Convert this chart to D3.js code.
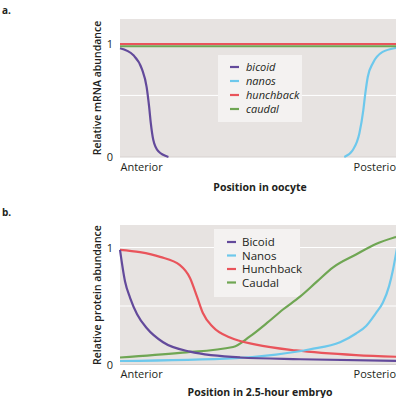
<!DOCTYPE html>
<html>
<head>
<meta charset="utf-8">
<script src="https://cdn.jsdelivr.net/npm/d3@7"></script>
<style>
  html, body { margin: 0; padding: 0; background: #fff; overflow: hidden; }
  svg { display: block; overflow: hidden; }
  text { font-family: "Open Sans", "Noto Sans", sans-serif; fill: #231f20; }
</style>
</head>
<body>
<script>
// position along the axis: 0 = anterior, 1 = posterior
const mrnaBicoid = [[0, 0.962], [0.048, 0.9], [0.078, 0.78], [0.095, 0.62], [0.104, 0.445], [0.11, 0.3], [0.119, 0.15], [0.137, 0.05], [0.173, 0]];
const mrnaNanos = [[0.801, 0], [0.831, 0.06], [0.855, 0.21], [0.869, 0.415], [0.876, 0.56], [0.885, 0.71], [0.903, 0.83], [0.938, 0.93], [0.986, 0.965], [1, 0.97]];
const mrnaHunchback = [[0, 1], [1, 1]];
const mrnaCaudal = [[0, 0.98], [1, 0.98]];

const protBicoid = [[0, 0.98], [0.018, 0.71], [0.036, 0.57], [0.061, 0.43], [0.096, 0.31], [0.154, 0.19], [0.25, 0.11], [0.429, 0.06], [0.643, 0.045], [1, 0.03]];
const protNanos = [[0, 0.03], [0.414, 0.055], [0.557, 0.085], [0.679, 0.13], [0.786, 0.19], [0.843, 0.265], [0.879, 0.33], [0.914, 0.44], [0.939, 0.53], [0.961, 0.67], [0.975, 0.81], [0.986, 0.95], [1, 1.12]];
const protHunchback = [[0, 0.98], [0.071, 0.96], [0.143, 0.92], [0.214, 0.85], [0.25, 0.74], [0.275, 0.58], [0.296, 0.44], [0.332, 0.32], [0.393, 0.23], [0.486, 0.17], [0.629, 0.12], [0.843, 0.08], [1, 0.065]];
const protCaudal = [[0, 0.06], [0.214, 0.1], [0.404, 0.15], [0.464, 0.24], [0.525, 0.355], [0.582, 0.47], [0.643, 0.58], [0.704, 0.71], [0.761, 0.83], [0.843, 0.94], [0.914, 1.03], [0.986, 1.09], [1, 1.1]];

const mrnaNames = ["bicoid", "nanos", "hunchback", "caudal"];
const proteinNames = ["Bicoid", "Nanos", "Hunchback", "Caudal"];
const colors = ["#634a9b", "#6dc8ec", "#e9545b", "#6fa653"];
const yTicks = [0, 1];
const xTickLabels = ["Anterior", "Posterior"];

const svg = d3.select("body").append("svg")
  .attr("width", 396)
  .attr("height", 398);

function drawPanel(p) {
  const x = d3.scaleLinear().domain([0, 1]).range([120, 400]);
  const y = d3.scaleLinear().domain([0, 1]).range([p.y0, p.y1]);
  const g = svg.append("g");

  g.append("text") // panel letter
    .attr("x", 2).attr("y", p.letterY)
    .style("font-size", "10px").style("font-weight", "700")
    .text(p.letter);

  g.append("rect") // plot background
    .attr("x", x(0)).attr("y", p.top)
    .attr("width", x(1) - x(0)).attr("height", y(0) - p.top)
    .attr("fill", "#e7e3e1");

  g.selectAll("line.grid")
    .data(p.grid)
    .join("line")
    .attr("class", "grid")
    .attr("x1", x(0)).attr("x2", x(1))
    .attr("y1", d => y(d)).attr("y2", d => y(d))
    .attr("stroke", "#fff").attr("stroke-width", 1);

  g.append("line") // bottom edge
    .attr("x1", x(0)).attr("x2", x(1))
    .attr("y1", y(0)).attr("y2", y(0))
    .attr("stroke", "#d6d1cf").attr("stroke-width", 1);

  // legend box sits under the curves
  const lg = g.append("g").attr("transform", `translate(${p.legend.x},${p.legend.y})`);
  lg.append("rect")
    .attr("width", p.legend.w).attr("height", p.legend.h)
    .attr("fill", "#f4f2f1");
  p.names.forEach((n, i) => {
    const ly = p.legend.first + i * p.legend.step;
    lg.append("line")
      .attr("x1", p.legend.sx).attr("x2", p.legend.sx + 9)
      .attr("y1", ly).attr("y2", ly)
      .attr("stroke", colors[i]).attr("stroke-width", 2.2);
    lg.append("text")
      .attr("x", p.legend.tx).attr("y", ly)
      .attr("dy", "0.35em")
      .style("font-size", p.legend.fs + "px")
      .style("font-style", p.italic ? "italic" : "normal")
      .text(n);
  });

  const line = d3.line()
    .x(d => x(d[0]))
    .y(d => y(d[1]))
    .curve(d3.curveMonotoneX);

  g.selectAll("path.series")
    .data(p.series)
    .join("path")
    .attr("class", "series")
    .attr("d", d => line(d.values))
    .attr("fill", "none")
    .attr("stroke", d => d.color)
    .attr("stroke-width", 2.2);

  const yAxis = g.append("g")
    .attr("transform", `translate(${x(0) - 4},0)`)
    .call(d3.axisLeft(y).tickValues(yTicks).tickSize(0).tickFormat(d3.format("d")));
  yAxis.select(".domain").remove();
  yAxis.selectAll("text").style("font-size", "11px").style("font-family", "'Open Sans', sans-serif").attr("fill", "#231f20");

  const xAxis = g.append("g")
    .attr("transform", `translate(0,${y(0)})`)
    .call(d3.axisBottom(x).tickValues([0, 1]).tickSize(0).tickFormat((d, i) => xTickLabels[i]));
  xAxis.select(".domain").remove();
  xAxis.selectAll("text")
    .attr("y", 6)
    .attr("text-anchor", (d, i) => i === 0 ? "start" : "end")
    .style("font-size", "11px").style("font-family", "'Open Sans', sans-serif").attr("fill", "#231f20");

  g.append("text") // y title
    .attr("transform", `translate(101,${p.yTitleY}) rotate(-90)`)
    .attr("text-anchor", "middle")
    .style("font-size", "10.5px").style("font-weight", "600")
    .text(p.yTitle);

  g.append("text") // x title
    .attr("x", 260).attr("y", p.xTitleY)
    .attr("text-anchor", "middle")
    .style("font-size", "10.5px").style("font-weight", "700")
    .text(p.xTitle);
}

drawPanel({
  letter: "a.", letterY: 14,
  top: 19, y0: 157, y1: 44,
  grid: [0.545],
  names: mrnaNames, italic: true,
  legend: { x: 218, y: 55, w: 84, h: 67, first: 12, step: 14, sx: 12, tx: 28, fs: 11 },
  series: [
    { color: colors[0], values: mrnaBicoid },
    { color: colors[1], values: mrnaNanos },
    { color: colors[3], values: mrnaCaudal },
    { color: colors[2], values: mrnaHunchback }
  ],
  yTitle: "Relative mRNA abundance", yTitleY: 88,
  xTitle: "Position in oocyte", xTitleY: 191
});

drawPanel({
  letter: "b.", letterY: 216,
  top: 225, y0: 364.5, y1: 247.5,
  grid: [0.5, 1],
  names: proteinNames, italic: false,
  legend: { x: 214, y: 229, w: 86, h: 68, first: 13, step: 13.5, sx: 13, tx: 28, fs: 11.5 },
  series: [
    { color: colors[3], values: protCaudal },
    { color: colors[2], values: protHunchback },
    { color: colors[1], values: protNanos },
    { color: colors[0], values: protBicoid }
  ],
  yTitle: "Relative protein abundance", yTitleY: 295,
  xTitle: "Position in 2.5-hour embryo", xTitleY: 396
});
</script>
</body>
</html>
